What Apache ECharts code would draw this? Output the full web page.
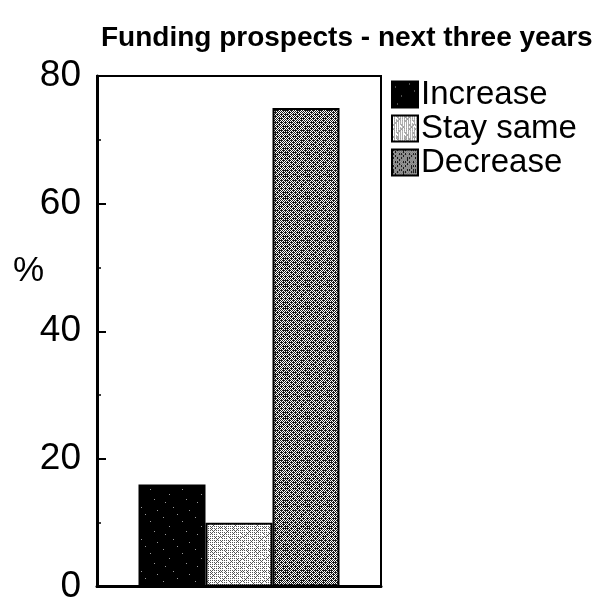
<!DOCTYPE html>
<html>
<head>
<meta charset="utf-8">
<script src="https://cdn.jsdelivr.net/npm/echarts@6/dist/echarts.min.js"></script>
<style>
  html, body { margin: 0; padding: 0; background: #fff; }
  #chart { width: 610px; height: 605px; }
</style>
</head>
<body>
<div id="chart"></div>
<script>
// Survey answers: expected change in funding over the next three years (%)
const categories = ['Increase', 'Stay same', 'Decrease'];
const values = [16, 10, 75];
const yTicks = [0, 20, 40, 60, 80];

// Stippled print-style fills, built as small repeating canvas tiles
function stipple(base, dot, density, size) {
  const c = document.createElement('canvas');
  c.width = size; c.height = size;
  const ctx = c.getContext('2d');
  ctx.fillStyle = base;
  ctx.fillRect(0, 0, size, size);
  ctx.fillStyle = dot;
  // ordered (Bayer 4x4) dither so the texture is regular and deterministic
  const bayer = [0, 8, 2, 10, 12, 4, 14, 6, 3, 11, 1, 9, 15, 7, 13, 5];
  for (let y = 0; y < size; y++) {
    for (let x = 0; x < size; x++) {
      const t = (bayer[(y % 4) * 4 + (x % 4)] + 0.5) / 16;
      const wobble = ((x * 7 + y * 13) % 11) / 11 * 0.25 - 0.125;
      if (t + wobble < density) ctx.fillRect(x, y, 1, 1);
    }
  }
  return { image: c, repeat: 'repeat' };
}

// sparse light specks on a black ground
function specks(size) {
  const c = document.createElement('canvas');
  c.width = size; c.height = size;
  const ctx = c.getContext('2d');
  ctx.fillStyle = '#000';
  ctx.fillRect(0, 0, size, size);
  ctx.fillStyle = '#9a9a9a';
  const pts = [[3, 5], [17, 2], [9, 14], [26, 19], [13, 27], [22, 9], [5, 22], [29, 30]];
  pts.forEach(p => ctx.fillRect(p[0], p[1], 1, 1));
  return { image: c, repeat: 'repeat' };
}

const fills = [
  specks(32),
  stipple('#ffffff', '#555555', 0.28, 22),
  stipple('#ffffff', '#1a1a1a', 0.58, 22)
];

const FONT = '"Liberation Sans", Arial, Helvetica, sans-serif';

const chart = echarts.init(document.getElementById('chart'), null, { renderer: 'canvas' });

const series = categories.map((name, i) => ({
  name: name,
  type: 'bar',
  data: [values[i]],
  barWidth: 67,
  barGap: '0%',
  itemStyle: { color: fills[i], borderColor: '#000', borderWidth: 2 },
  emphasis: { disabled: true },
  animation: false
}));

chart.setOption({
  animation: false,
  backgroundColor: '#fff',
  title: {
    text: 'Funding prospects - next three years',
    left: 96,
    top: 19,
    textStyle: { fontFamily: FONT, fontSize: 28, fontWeight: 'bold', color: '#000' }
  },
  legend: {
    orient: 'vertical',
    left: 391,
    top: 78,
    itemWidth: 26,
    itemHeight: 26,
    itemGap: 1,
    padding: 0,
    icon: 'rect',
    selectedMode: false,
    textStyle: { fontFamily: FONT, fontSize: 33, lineHeight: 32, color: '#000', padding: [0, 0, 0, -2] },
    data: categories
  },
  graphic: [{
    type: 'text',
    left: 13,
    top: 254,
    style: { text: '%', fontFamily: FONT, fontSize: 35, fill: '#000' }
  }],
  grid: {
    left: 97, right: 229, top: 76, bottom: 15,
    show: true, borderColor: '#000', borderWidth: 2, backgroundColor: 'transparent'
  },
  xAxis: {
    type: 'category',
    data: [''],
    axisLine: { lineStyle: { color: '#000', width: 3 } },
    axisTick: { show: false },
    axisLabel: { show: false },
    splitLine: { show: false }
  },
  yAxis: {
    type: 'value',
    min: yTicks[0],
    max: yTicks[yTicks.length - 1],
    interval: 20,
    axisLine: { show: true, lineStyle: { color: '#000', width: 3 } },
    axisTick: { show: true, inside: true, length: 9, lineStyle: { color: '#000', width: 2 } },
    minorTick: { show: true, splitNumber: 2, length: 4, lineStyle: { color: '#000', width: 1.5 } },
    axisLabel: { fontFamily: FONT, fontSize: 37, color: '#000', margin: 16 },
    splitLine: { show: false }
  },
  series: series
});
</script>
</body>
</html>
